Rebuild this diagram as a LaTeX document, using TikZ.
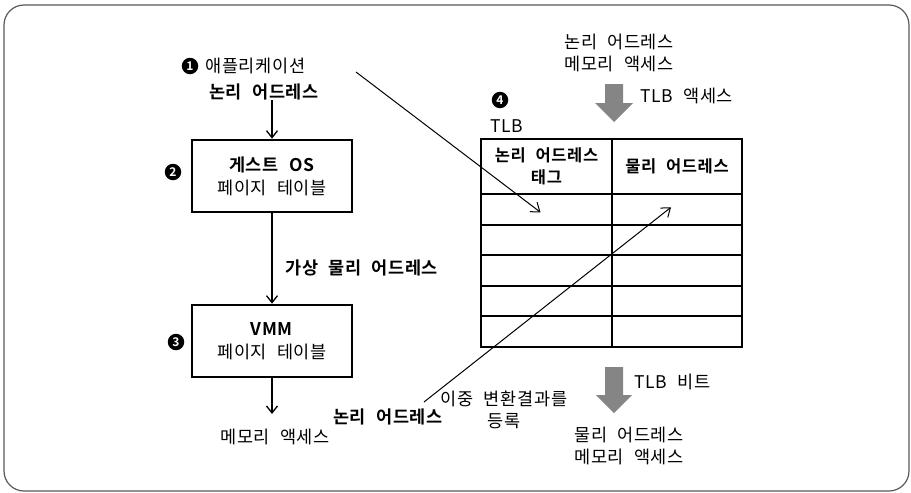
\documentclass[tikz,border=0pt]{standalone}
\usepackage{fontspec}
\setmainfont{Noto Sans CJK KR}[BoldFont={Noto Sans CJK KR Bold}, WordSpace={2.2}, LetterSpace=4]
\usetikzlibrary{arrows.meta,calc}

\tikzset{
  txt/.style={inner sep=0pt, align=center, font=\fontsize{17.5}{21.5}\selectfont},
  btxt/.style={txt, font=\fontsize{17.5}{21.5}\selectfont\bfseries},
  num/.style={circle, fill=black, inner sep=0pt, minimum size=16.5pt,
              text=white, font=\fontsize{12}{12}\selectfont\bfseries},
  pbox/.style={draw, line width=2.6pt, minimum width=160pt, minimum height=72pt,
               align=center, inner sep=0pt, font=\fontsize{17.5}{23}\selectfont},
  cell/.style={draw, line width=2pt, inner sep=0pt, outer sep=0pt, align=center,
               minimum width=131pt, font=\fontsize{16.5}{22}\selectfont\bfseries},
  arr/.style={line width=1.3pt, -{Straight Barb[length=7pt,width=11pt,line width=1.3pt]}},
  thin arr/.style={line width=1pt, -{Straight Barb[length=8pt,width=12pt,line width=1pt]}},
  fat/.style={fill=black!48, draw=none},
}

\begin{document}
\begin{tikzpicture}[x=1pt, y=-1pt]
  \useasboundingbox (0,0) rectangle (911,493);
  % outer frame
  \draw[black!65, line width=1.2pt, rounded corners=20pt] (4,5) rectangle (909,491);

  % left chain: application -> guest OS -> VMM -> memory
  \node[num] (n1) at (190,66) {1};
  \node[txt, anchor=west] (app) at (205,66) {애플리케이션};
  \node[btxt] (la) at (264,92) {논리 어드레스};

  \node[pbox] (gos) at (272,176) {\textbf{게스트 OS}\\페이지 테이블};
  \node[num] (n2) at (173,172) {2};

  \node[pbox] (vmm) at (272,341) {\textbf{VMM}\\페이지 테이블};
  \node[num] (n3) at (176,342) {3};

  \node[btxt, anchor=west] (vpa) at (285,268) {가상 물리 어드레스};
  \coordinate (memtop) at (272,414);
  \node[txt] (mem) at (275,437) {메모리 액세스};

  \draw[arr] (la.south -| gos.north) -- (gos.north);
  \draw[arr] (gos.south) -- (vmm.north);
  \draw[arr] (vmm.south) -- (memtop);

  % TLB table
  \node[num] (n4) at (500,100) {4};
  \node[txt] (tlb) at (507,126) {TLB};

  \node[cell, minimum height=55pt] (h1) at (546.5,166.5) {논리 어드레스\\태그};
  \node[cell, minimum height=55pt, minimum width=130pt] (h2) at (677,166.5) {물리 어드레스};
  \foreach \i/\y in {1/209.3, 2/239.9, 3/270.5, 4/301.1, 5/331.7} {
    \node[cell, minimum height=30.6pt] (r\i a) at (546.5,\y) {};
    \node[cell, minimum height=30.6pt, minimum width=130pt] (r\i b) at (677,\y) {};
  }

  % top: logical address access
  \node[txt] (topt) at (619,53) {논리 어드레스\\메모리 액세스};
  \fill[fat] (605,84) -- (623,84) -- (623,103) -- (633,103) -- (614,122)
             -- (595,103) -- (605,103) -- cycle;
  \node[txt, anchor=west] (tlbacc) at (640,96) {TLB 액세스};

  % bottom: physical address access
  \fill[fat] (605,367) -- (623,367) -- (623,395) -- (632,395) -- (614,413)
             -- (596,395) -- (605,395) -- cycle;
  \node[txt, anchor=west] (tlbhit) at (634,382) {TLB 비트};
  \node[txt] (bott) at (629,446) {물리 어드레스\\메모리 액세스};

  % registering the double translation
  \node[btxt] (la2) at (388,417) {논리 어드레스};
  \node[txt] (reg) at (504,410) {이중 변환결과를\\등록};

  \coordinate (s1) at (356,72);
  \coordinate (s2) at (424,402);
  \draw[thin arr] (s1) -- ($(r1a.center)+(-6,3)$);
  \draw[thin arr] (s2) -- ($(r1b.center)+(-6,-2)$);
\end{tikzpicture}
\end{document}
